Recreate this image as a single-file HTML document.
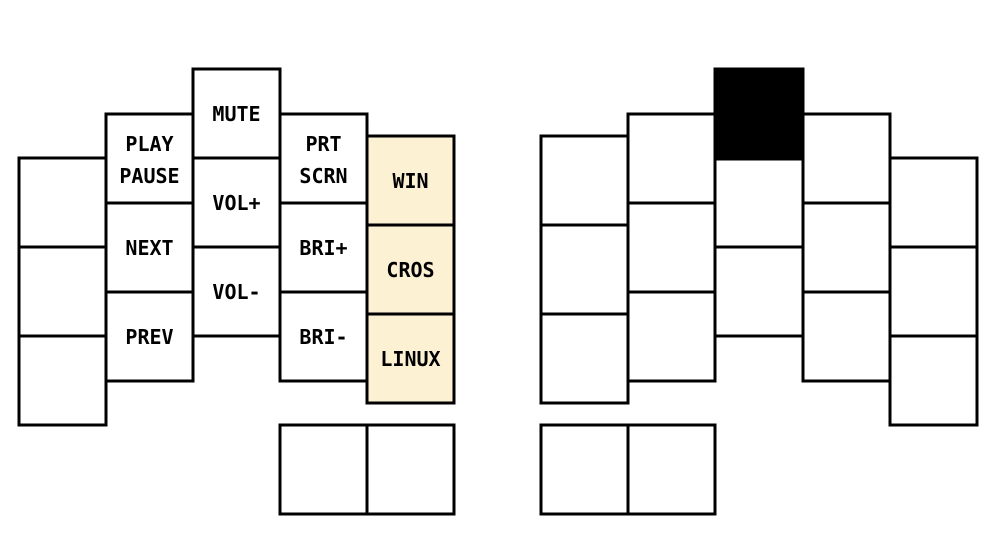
<!DOCTYPE html>
<html><head><meta charset="utf-8"><style>
html,body{margin:0;padding:0;background:#fff;}
svg{display:block;}
text{font-family:"DejaVu Sans Mono","Liberation Mono",monospace;font-weight:bold;font-size:20px;fill:#000;text-anchor:middle;dominant-baseline:central;}
rect{stroke:#000;stroke-width:3;}
</style></head><body>
<svg width="988" height="556" viewBox="0 0 988 556">
<g>
<rect x="19" y="158" width="87" height="89" fill="#fff"/>
<rect x="19" y="247" width="87" height="89" fill="#fff"/>
<rect x="19" y="336" width="87" height="89" fill="#fff"/>
<rect x="106" y="114" width="87" height="89" fill="#fff"/>
<rect x="106" y="203" width="87" height="89" fill="#fff"/>
<rect x="106" y="292" width="87" height="89" fill="#fff"/>
<rect x="193" y="69" width="87" height="89" fill="#fff"/>
<rect x="193" y="158" width="87" height="89" fill="#fff"/>
<rect x="193" y="247" width="87" height="89" fill="#fff"/>
<rect x="280" y="114" width="87" height="89" fill="#fff"/>
<rect x="280" y="203" width="87" height="89" fill="#fff"/>
<rect x="280" y="292" width="87" height="89" fill="#fff"/>
<rect x="367" y="136" width="87" height="89" fill="#fdf1d3"/>
<rect x="367" y="225" width="87" height="89" fill="#fdf1d3"/>
<rect x="367" y="314" width="87" height="89" fill="#fdf1d3"/>
<rect x="280" y="425" width="87" height="89" fill="#fff"/>
<rect x="367" y="425" width="87" height="89" fill="#fff"/>
<text x="149.5" y="144">PLAY</text>
<text x="149.5" y="176">PAUSE</text>
<text x="149.5" y="248">NEXT</text>
<text x="149.5" y="337">PREV</text>
<text x="236.5" y="114">MUTE</text>
<text x="236.5" y="203">VOL+</text>
<text x="236.5" y="292">VOL-</text>
<text x="323.5" y="144">PRT</text>
<text x="323.5" y="176">SCRN</text>
<text x="323.5" y="248">BRI+</text>
<text x="323.5" y="337">BRI-</text>
<text x="410.5" y="181">WIN</text>
<text x="410.5" y="270">CROS</text>
<text x="410.5" y="359">LINUX</text>
</g>
<g>
<rect x="541" y="136" width="87" height="89" fill="#fff"/>
<rect x="541" y="225" width="87" height="89" fill="#fff"/>
<rect x="541" y="314" width="87" height="89" fill="#fff"/>
<rect x="628" y="114" width="87" height="89" fill="#fff"/>
<rect x="628" y="203" width="87" height="89" fill="#fff"/>
<rect x="628" y="292" width="87" height="89" fill="#fff"/>
<rect x="715" y="158" width="88" height="89" fill="#fff"/>
<rect x="715" y="247" width="88" height="89" fill="#fff"/>
<rect x="715" y="69" width="88" height="90" fill="#000"/>
<rect x="803" y="114" width="87" height="89" fill="#fff"/>
<rect x="803" y="203" width="87" height="89" fill="#fff"/>
<rect x="803" y="292" width="87" height="89" fill="#fff"/>
<rect x="890" y="158" width="87" height="89" fill="#fff"/>
<rect x="890" y="247" width="87" height="89" fill="#fff"/>
<rect x="890" y="336" width="87" height="89" fill="#fff"/>
<rect x="541" y="425" width="87" height="89" fill="#fff"/>
<rect x="628" y="425" width="87" height="89" fill="#fff"/>
</g>
</svg>
</body></html>
